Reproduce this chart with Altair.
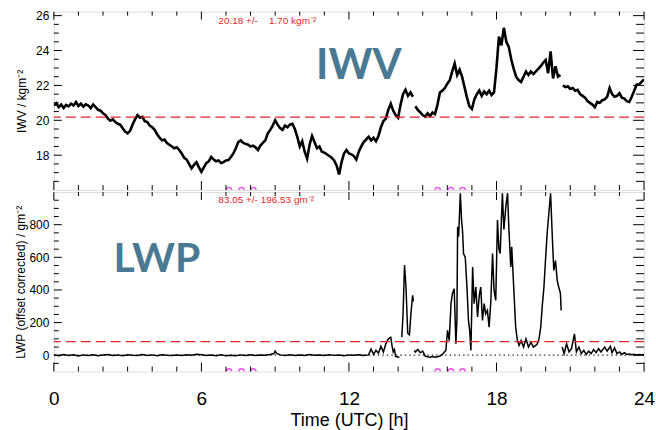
import altair as alt
import pandas as pd

# ---------------- data ----------------
IWV_T = [0.0, 0.1, 0.2, 0.3, 0.4, 0.5, 0.6, 0.7, 0.8, 0.9, 1.0, 1.1, 1.2, 1.3, 1.4, 1.5, 1.6, 1.7, 1.8, 1.9,
         2.0, 2.1, 2.2, 2.3, 2.4, 2.5, 2.6, 2.7, 2.8, 2.9, 3.0, 3.1, 3.2, 3.3, 3.4, 3.5, 3.6, 3.7, 3.8, 3.9,
         4.0, 4.1, 4.2, 4.3, 4.4, 4.5, 4.6, 4.7, 4.8, 4.9, 5.0, 5.1, 5.2, 5.3, 5.4, 5.5, 5.6, 5.7, 5.8, 5.9,
         6.0, 6.1, 6.2, 6.3, 6.4, 6.5, 6.6, 6.7, 6.8, 6.9, 7.0, 7.1, 7.2, 7.3, 7.4, 7.5, 7.6, 7.7, 7.8, 7.9,
         8.0, 8.1, 8.2, 8.3, 8.4, 8.5, 8.6, 8.7, 8.8, 8.9, 9.0, 9.1, 9.2, 9.3, 9.4, 9.5, 9.6, 9.7, 9.8, 9.9,
         10.0, 10.1, 10.2, 10.3, 10.4, 10.5, 10.6, 10.7, 10.8, 10.9, 11.0, 11.1, 11.2, 11.3, 11.4, 11.5, 11.6, 11.7, 11.8, 11.9,
         12.0, 12.1, 12.2, 12.3, 12.4, 12.5, 12.6, 12.7, 12.8, 12.9, 13.0, 13.1, 13.2, 13.3, 13.4, 13.5, 13.6, 13.7, 13.8, 13.9,
         14.0, 14.1, 14.2, 14.3, 14.4, 14.5, 14.6, None,
         14.7, 14.8, 14.9, 15.0, 15.1, 15.2, 15.3, 15.4, 15.5, 15.6, 15.7, 15.8, 15.9,
         16.0, 16.1, 16.2, 16.3, 16.4, 16.5, 16.6, 16.7, 16.8, 16.9, 17.0, 17.1, 17.2, 17.3, 17.4, 17.5, 17.6, 17.7, 17.8, 17.9,
         18.0, 18.1, 18.2, 18.3, 18.4, 18.5, 18.6, 18.7, 18.8, 18.9, 19.0, 19.1, 19.2, 19.3, 19.4, 19.5, 19.6, 19.7, 19.8, 19.9,
         20.0, 20.1, 20.2, 20.3, 20.4, 20.5, 20.6, None,
         20.7, 20.8, 20.9, 21.0, 21.1, 21.2, 21.3, 21.4, 21.5, 21.6, 21.7, 21.8, 21.9,
         22.0, 22.1, 22.2, 22.3, 22.4, 22.5, 22.6, 22.7, 22.8, 22.9, 23.0, 23.1, 23.2, 23.3, 23.4, 23.5, 23.6, 23.7, 23.8, 23.9, 24.0]
IWV_V = [20.85, 20.98, 20.75, 20.9, 20.7, 20.88, 20.8, 20.95, 20.85, 21.05, 20.82, 20.95, 20.78, 20.92, 20.85, 20.7, 20.9, 20.75, 20.6, 20.55,
         20.4, 20.3, 20.1, 19.98, 20.05, 19.9, 19.8, 19.75, 19.55, 19.35, 19.25, 19.4, 19.75, 20.05, 20.3, 20.15, 20.2, 19.95, 19.9, 19.7,
         19.6, 19.45, 19.2, 19.0, 18.85, 18.9, 18.7, 18.6, 18.5, 18.4, 18.45, 18.3, 18.1, 17.85, 17.75, 17.5, 17.25, 17.45, 17.6, 17.3,
         17.05, 17.3, 17.55, 17.65, 17.9, 17.75, 17.65, 17.7, 17.55, 17.6, 17.7, 17.72, 17.9, 18.1, 18.4, 18.75, 18.85, 18.7, 18.65, 18.6,
         18.5, 18.55, 18.45, 18.3, 18.55, 18.7, 18.85, 19.25, 19.45, 19.7, 20.0, 19.75, 19.55, 19.45, 19.7, 19.6, 19.75, 19.8, 19.5, 19.05,
         18.5, 18.8, 18.2, 17.8, 18.6, 19.1, 18.75, 18.4, 18.5, 18.2, 18.15, 18.05, 17.95, 17.85, 17.7, 17.4, 16.9, 17.6, 18.1, 18.3,
         18.1, 18.05, 17.95, 17.75, 18.2, 18.5, 18.75, 18.9, 19.05, 18.85, 19.0, 18.8, 19.1, 19.6, 19.95, 20.1, 20.6, 20.95, 20.55, 20.3,
         20.15, 20.9, 21.5, 21.75, 21.4, 21.6, 21.35, None,
         20.8, 20.6, 20.45, 20.3, 20.2, 20.4, 20.25, 20.45, 20.35, 20.9, 21.6, 21.7, 21.85,
         22.1, 22.3, 22.8, 23.25, 22.6, 22.9, 22.5, 21.9, 21.3, 20.8, 20.65, 21.2, 21.5, 21.7, 21.4, 21.65, 21.5, 21.7, 21.45, 21.6,
         23.0, 24.8, 24.3, 25.3, 24.5, 24.2, 23.5, 22.95, 22.5, 22.3, 22.2, 22.5, 22.8, 22.6, 22.8, 22.65, 22.8, 22.95, 23.1, 23.3,
         23.45, 22.7, 23.95, 22.4, 23.1, 22.5, 22.6, None,
         22.0, 21.9, 21.95, 21.8, 21.85, 21.7, 21.75, 21.5, 21.4, 21.3, 21.1, 21.0, 20.9,
         20.75, 21.05, 21.0, 21.15, 21.2, 21.35, 21.85, 21.5, 21.35, 21.4, 21.55, 21.3, 21.25, 21.1, 21.05, 21.35, 21.7, 22.05, 22.05, 22.2, 22.35]

LWP_T = [0.0, 0.2, 0.4, 0.6, 0.8, 1.0, 1.2, 1.4, 1.6, 1.8, 2.0, 2.2, 2.4, 2.6, 2.8, 3.0, 3.2, 3.4, 3.6, 3.8,
         4.0, 4.2, 4.4, 4.6, 4.8, 5.0, 5.2, 5.4, 5.6, 5.8, 6.0, 6.2, 6.4, 6.6, 6.8, 7.0, 7.2, 7.4, 7.6, 7.8,
         8.0, 8.2, 8.4, 8.6, 8.8, 8.95, 9.0, 9.05, 9.2, 9.4, 9.6, 9.8, 10.0, 10.2, 10.4, 10.6, 10.8, 11.0, 11.2, 11.4,
         11.6, 11.8, 12.0, 12.2, 12.4, 12.6, 12.8, 12.9, 13.0, 13.1, 13.2, 13.3, 13.4, 13.5, 13.6, 13.7, 13.75, 13.8, 13.85, 13.9,
         14.0, 14.05, None,
         14.15, 14.2, 14.26, 14.32, 14.39, 14.46, 14.52, 14.59, 14.62, None,
         14.66, 14.7, 14.8, 14.9, 15.0, 15.1, 15.2, 15.3, 15.4, 15.5, 15.6, 15.7, 15.8, 15.88, 15.94, 16.01, 16.08, 16.15, 16.21, 16.28,
         16.35, 16.39, 16.42, 16.46, 16.53, 16.58, 16.62, 16.66, 16.73, 16.8, 16.86, 16.91, 16.96, 17.03, 17.09, 17.16, 17.23, 17.3, 17.36, 17.43,
         17.5, 17.56, 17.63, 17.7, 17.77, 17.84, 17.9, 17.97, 18.04, 18.1, 18.15, 18.24, 18.3, 18.38, 18.45, 18.5, 18.58, 18.62, 18.7, 18.78,
         18.85, 18.92, 19.0, 19.1, 19.2, 19.3, 19.4, 19.5, 19.6, 19.66, 19.73, 19.8, 19.86, 19.93, 20.0, 20.06, 20.13, 20.2, 20.27, 20.33,
         20.4, 20.47, 20.53, 20.6, 20.63, None,
         20.67, 20.75, 20.85, 20.95, 21.05, 21.17, 21.25, 21.35, 21.45, 21.55, 21.65, 21.75, 21.85, 21.95, 22.05, 22.15, 22.25, 22.4, 22.5, 22.63,
         22.7, 22.8, 22.9, 23.0, 23.1, 23.2, 23.3, 23.4, 23.5, 23.6, 23.7, 23.8, 23.9, 24.0]
LWP_V = [2, -3, 4, -2, 3, -4, 2, -1, 3, -3, 1, 4, -2, 2, -3, 3, 0, -2, 4, -1,
         2, -3, 3, 0, -2, 2, -1, 3, 0, 6, 3, -2, 1, -3, 2, -4, 0, -3, 2, -2,
         3, -1, 2, 0, 4, 10, 25, 12, 2, -2, 3, -1, 2, -2, 4, 0, 2, -2, 3, -1,
         1, -3, 2, 0, 3, -1, 2, 38, 5, 30, 12, 55, 20, 70, 100, 110, 60, 20, 35, -8,
         -12, -10, None,
         111, 250, 552, 418, 135, 125, 254, 367, 330, None,
         30, 20, 35, 15, 25, -5, -10, -12, -8, -12, -10, -5, 5, 20, 29, 152, 90, 316, 379, 408,
         70, 213, 788, 726, 993, 829, 760, 623, 600, 418, 213, 152, 29, 541, 316, 418, 234, 367, 418, 213,
         316, 254, 275, 172, 330, 623, 400, 336, 829, 650, 623, 993, 770, 911, 993, 790, 541, 664, 418, 172,
         90, 60, 90, 50, 100, 50, 80, 50, 60, 70, 100, 172, 300, 418, 600, 747, 870, 993, 726, 520,
         580, 459, 418, 380, 275, None,
         50, 10, 70, 20, 40, 131, 20, 50, 10, 30, 5, 25, 10, 35, 15, 40, 20, 50, 25, 55,
         15, 45, 10, 20, 5, 15, 5, 8, 3, 6, 2, 5, 3, 5]

IWV_MEAN = 20.18
LWP_MEAN = 83.05
IWV_LABEL = "20.18 +/-\u00a0\u00a0\u00a0 1.70 kgm\u207b\u00b2"
LWP_LABEL = "83.05 +/- 196.53 gm\u207b\u00b2"
FLAG_T = [7.12, 7.63, 8.11, 15.61, 16.15, 16.62]

X_MAJOR = [0, 6, 12, 18, 24]
X_MINOR = [1, 2, 3, 4, 5, 7, 8, 9, 10, 11, 13, 14, 15, 16, 17, 19, 20, 21, 22, 23]
IWV_MAJOR = [18, 20, 22, 24, 26]
IWV_MINOR = [16.5, 17, 17.5, 18.5, 19, 19.5, 20.5, 21, 21.5, 22.5, 23, 23.5, 24.5, 25, 25.5]
LWP_MAJOR = [0, 200, 400, 600, 800]
LWP_MINOR = [-50, 50, 100, 150, 250, 300, 350, 450, 500, 550, 650, 700, 750, 850, 900, 950]

IWV_DOMAIN = [16.0, 26.23]
LWP_DOMAIN = [-100, 1000]
W = 592
H_TOP = 179
H_BOT = 180
RED = "#e3262b"
BLUE = "#4a7a93"
MAG = "#e020e0"


def to_frame(ts, vs):
    rows, seg = [], 0
    for t, v in zip(ts, vs):
        if t is None or v is None:
            seg += 1
            continue
        rows.append({"t": t, "v": v, "seg": seg})
    return pd.DataFrame(rows)


iwv_df = to_frame(IWV_T, IWV_V)
lwp_df = to_frame(LWP_T, LWP_V)

xscale = alt.Scale(domain=[0, 24], nice=False, zero=False)
iwv_scale = alt.Scale(domain=IWV_DOMAIN, nice=False, zero=False)
lwp_scale = alt.Scale(domain=LWP_DOMAIN, nice=False, zero=False)

iwv_axis = alt.Axis(values=IWV_MAJOR, ticks=False, domain=False, grid=False, labelFontSize=12,
                    labelPadding=5, title="IWV / kgm\u207b\u00b2", titleFontSize=12,
                    titleX=-25, titleFontWeight="normal")
lwp_axis = alt.Axis(values=LWP_MAJOR, ticks=False, domain=False, grid=False, labelFontSize=12,
                    labelPadding=5, title="LWP (offset corrected) / gm\u207b\u00b2", titleFontSize=12,
                    titleX=-26, titleFontWeight="normal")
x_axis = alt.Axis(values=X_MAJOR, ticks=False, domain=False, grid=False, labelFontSize=19,
                  labelPadding=18, labelFlush=False, format="d", title="Time (UTC) [h]",
                  titleFontSize=18, titleFontWeight="normal", titlePadding=3)

X_TOP = alt.X("t:Q", scale=xscale, axis=None, title="Time (UTC) [h]")
X_BOT = alt.X("t:Q", scale=xscale, axis=x_axis, title="Time (UTC) [h]")
Y_IWV = alt.Y("v:Q", scale=iwv_scale, axis=iwv_axis, title="IWV / kgm\u207b\u00b2")
Y_LWP = alt.Y("v:Q", scale=lwp_scale, axis=lwp_axis, title="LWP (offset corrected) / gm\u207b\u00b2")


def tick_layers(H, ymaj, ymin, X, Y):
    layers = []
    ydf_maj = pd.DataFrame({"v": ymaj})
    ydf_min = pd.DataFrame({"v": ymin})
    xdf_maj = pd.DataFrame({"t": X_MAJOR})
    xdf_min = pd.DataFrame({"t": X_MINOR})
    for df, ln in ((ydf_maj, 8), (ydf_min, 5)):
        layers.append(alt.Chart(df).mark_rule(color="black", strokeWidth=1).encode(
            y=Y, x=alt.value(0), x2=alt.value(ln)))
        layers.append(alt.Chart(df).mark_rule(color="black", strokeWidth=1).encode(
            y=Y, x=alt.value(W), x2=alt.value(W - ln - 3)))
    for df, ln in ((xdf_maj, 9), (xdf_min, 5)):
        layers.append(alt.Chart(df).mark_rule(color="black", strokeWidth=1).encode(
            x=X, y=alt.value(H), y2=alt.value(H - ln)))
        layers.append(alt.Chart(df).mark_rule(color="black", strokeWidth=1).encode(
            x=X, y=alt.value(0), y2=alt.value(ln - 1)))
    return layers


# ---------------- top panel (IWV) ----------------
iwv_line = alt.Chart(iwv_df).mark_line(color="black", strokeWidth=2.6, clip=True).encode(
    x=X_TOP, y=Y_IWV, detail="seg:N")
iwv_mean = alt.Chart(pd.DataFrame({"v": [IWV_MEAN]})).mark_rule(
    color=RED, strokeDash=[10, 5], strokeWidth=1.2).encode(y=Y_IWV)
iwv_txt = alt.Chart(pd.DataFrame({"t": [6.69], "s": [IWV_LABEL]})).mark_text(
    align="left", baseline="middle", fontSize=10, color=RED, font="Liberation Sans").encode(
    x=X_TOP, y=alt.value(9), text="s:N")
iwv_big = alt.Chart(pd.DataFrame({"t": [10.66], "s": ["IWV"]})).mark_text(
    align="left", baseline="middle", fontSize=42, fontWeight="bold", color=BLUE, font="Lato").encode(
    x=X_TOP, y=alt.value(55), text="s:N")
iwv_flags = alt.Chart(pd.DataFrame({"t": FLAG_T, "v": [IWV_DOMAIN[0]] * len(FLAG_T)})).mark_point(
    shape="circle", filled=False, color=MAG, size=28, strokeWidth=1.6, clip=True).encode(
    x=X_TOP, y=Y_IWV)

top = alt.layer(iwv_line, iwv_mean, iwv_txt, iwv_big, iwv_flags,
                *tick_layers(H_TOP, IWV_MAJOR, IWV_MINOR, X_TOP, Y_IWV)).properties(width=W, height=H_TOP)

# ---------------- bottom panel (LWP) ----------------
lwp_line = alt.Chart(lwp_df).mark_line(color="black", strokeWidth=1.5, clip=True).encode(
    x=X_BOT, y=Y_LWP, detail="seg:N")
lwp_zero = alt.Chart(pd.DataFrame({"v": [0]})).mark_rule(
    color="#333333", strokeDash=[1.5, 3], strokeWidth=1.2).encode(y=Y_LWP)
lwp_mean = alt.Chart(pd.DataFrame({"v": [LWP_MEAN]})).mark_rule(
    color=RED, strokeDash=[10, 5], strokeWidth=1.2).encode(y=Y_LWP)
lwp_txt = alt.Chart(pd.DataFrame({"t": [6.69], "s": [LWP_LABEL]})).mark_text(
    align="left", baseline="middle", fontSize=10, color=RED, font="Liberation Sans").encode(
    x=X_BOT, y=alt.value(8), text="s:N")
lwp_big = alt.Chart(pd.DataFrame({"t": [2.43], "s": ["LWP"]})).mark_text(
    align="left", baseline="middle", fontSize=41, fontWeight="bold", color=BLUE, font="Lato").encode(
    x=X_BOT, y=alt.value(68), text="s:N")
lwp_flags = alt.Chart(pd.DataFrame({"t": FLAG_T, "v": [LWP_DOMAIN[0]] * len(FLAG_T)})).mark_point(
    shape="circle", filled=False, color=MAG, size=28, strokeWidth=1.6, clip=True).encode(
    x=X_BOT, y=Y_LWP)

bottom = alt.layer(lwp_zero, lwp_line, lwp_mean, lwp_txt, lwp_big, lwp_flags,
                   *tick_layers(H_BOT, LWP_MAJOR, LWP_MINOR, X_BOT, Y_LWP)).properties(width=W, height=H_BOT)

chart = alt.vconcat(top, bottom, spacing=0).properties(
    padding={"left": 14, "top": 8, "right": 0, "bottom": 0}
).configure_view(stroke="black", strokeWidth=1).configure_axis(
    labelFont="Liberation Sans", titleFont="Liberation Sans", labelColor="black", titleColor="black"
).configure(background="white")

chart.save("out.html", embed_options={"renderer": "svg", "actions": False})
